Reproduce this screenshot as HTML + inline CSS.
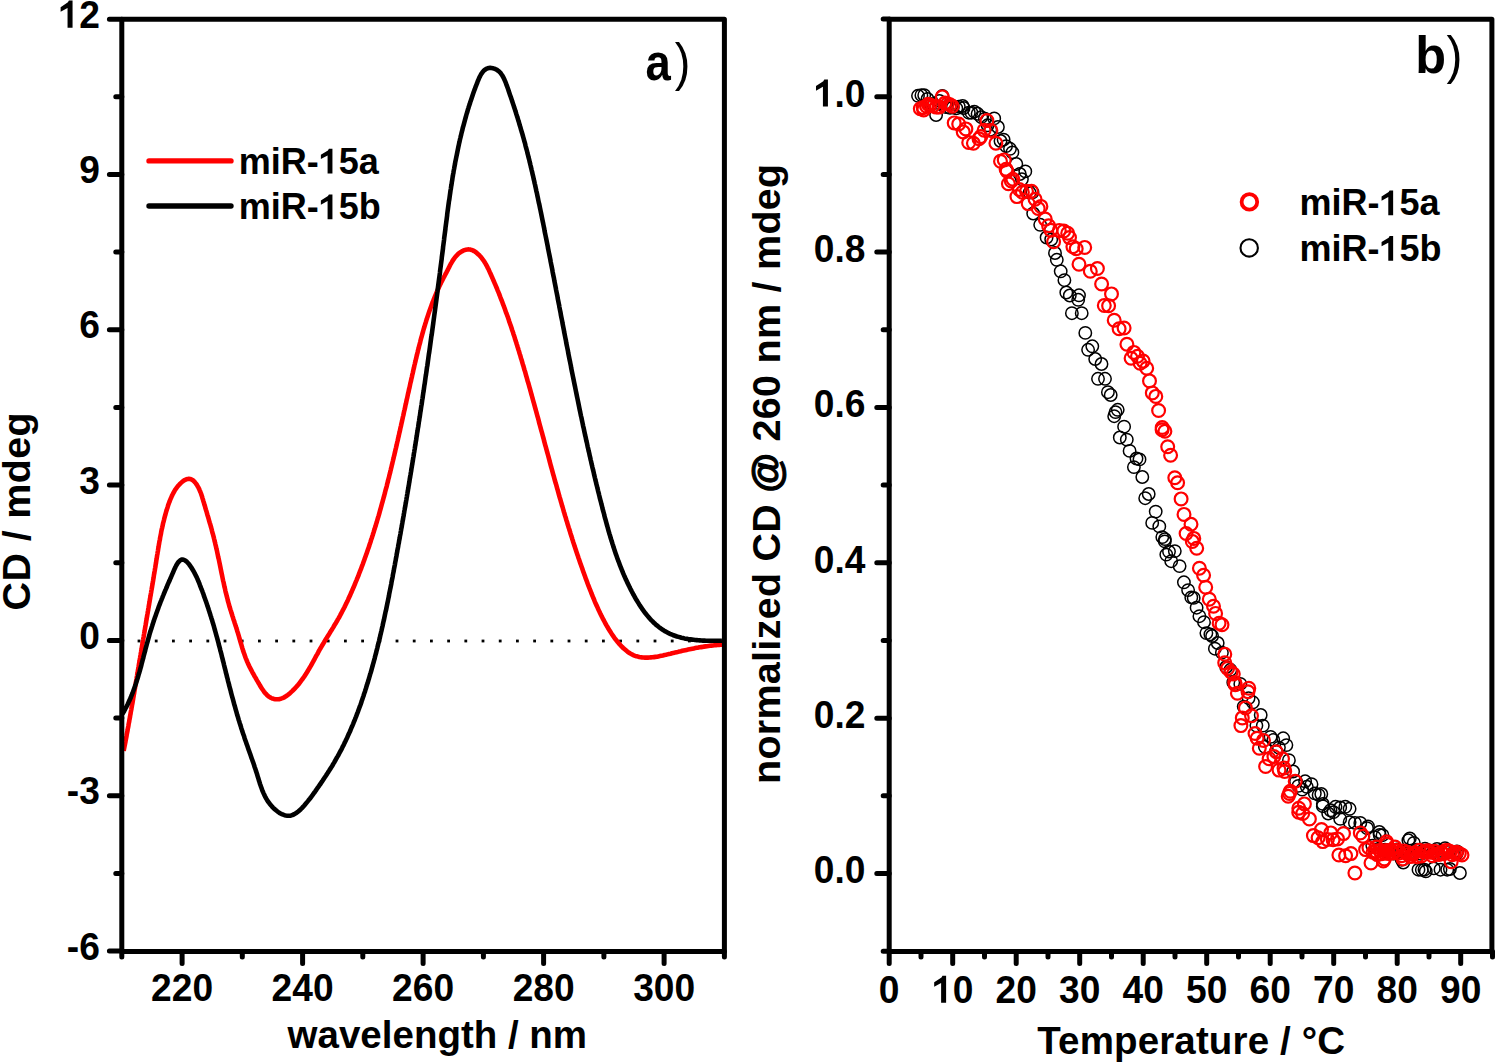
<!DOCTYPE html>
<html><head><meta charset="utf-8"><style>
html,body{margin:0;padding:0;background:#fff;width:1495px;height:1063px;overflow:hidden}
svg{display:block;font-family:"Liberation Sans",sans-serif}
</style></head><body>
<svg width="1495" height="1063" viewBox="0 0 1495 1063">
<rect width="1495" height="1063" fill="#fff"/>
<g fill="#000"><rect x="137.6" y="639.6" width="2.8" height="2.8"/><rect x="154.8" y="639.6" width="2.8" height="2.8"/><rect x="172.0" y="639.6" width="2.8" height="2.8"/><rect x="189.2" y="639.6" width="2.8" height="2.8"/><rect x="206.4" y="639.6" width="2.8" height="2.8"/><rect x="223.6" y="639.6" width="2.8" height="2.8"/><rect x="240.8" y="639.6" width="2.8" height="2.8"/><rect x="258.0" y="639.6" width="2.8" height="2.8"/><rect x="275.2" y="639.6" width="2.8" height="2.8"/><rect x="292.4" y="639.6" width="2.8" height="2.8"/><rect x="309.6" y="639.6" width="2.8" height="2.8"/><rect x="326.8" y="639.6" width="2.8" height="2.8"/><rect x="344.0" y="639.6" width="2.8" height="2.8"/><rect x="361.2" y="639.6" width="2.8" height="2.8"/><rect x="378.4" y="639.6" width="2.8" height="2.8"/><rect x="395.6" y="639.6" width="2.8" height="2.8"/><rect x="412.8" y="639.6" width="2.8" height="2.8"/><rect x="430.0" y="639.6" width="2.8" height="2.8"/><rect x="447.2" y="639.6" width="2.8" height="2.8"/><rect x="464.4" y="639.6" width="2.8" height="2.8"/><rect x="481.6" y="639.6" width="2.8" height="2.8"/><rect x="498.8" y="639.6" width="2.8" height="2.8"/><rect x="516.0" y="639.6" width="2.8" height="2.8"/><rect x="533.2" y="639.6" width="2.8" height="2.8"/><rect x="550.4" y="639.6" width="2.8" height="2.8"/><rect x="567.6" y="639.6" width="2.8" height="2.8"/><rect x="584.8" y="639.6" width="2.8" height="2.8"/><rect x="602.0" y="639.6" width="2.8" height="2.8"/><rect x="619.2" y="639.6" width="2.8" height="2.8"/><rect x="636.4" y="639.6" width="2.8" height="2.8"/><rect x="653.6" y="639.6" width="2.8" height="2.8"/><rect x="670.8" y="639.6" width="2.8" height="2.8"/><rect x="688.0" y="639.6" width="2.8" height="2.8"/><rect x="705.2" y="639.6" width="2.8" height="2.8"/></g>
<path d="M123.7,751.0 L123.9,749.5 L124.2,748.1 L124.5,746.6 L124.8,745.1 L125.1,743.6 L125.4,742.1 L125.6,740.7 L125.9,739.2 L126.2,737.7 L126.5,736.2 L126.7,734.8 L127.0,733.3 L127.3,731.8 L127.6,730.3 L127.8,728.8 L128.1,727.4 L128.4,725.9 L128.6,724.4 L128.9,722.9 L129.2,721.5 L129.4,720.0 L129.7,718.5 L130.0,717.0 L130.2,715.5 L130.5,714.1 L130.7,712.6 L131.0,711.1 L131.3,709.6 L131.5,708.1 L131.8,706.7 L132.0,705.2 L132.3,703.7 L132.6,702.2 L132.8,700.8 L133.1,699.3 L133.3,697.8 L133.6,696.3 L133.8,694.8 L134.1,693.4 L134.3,691.9 L134.6,690.4 L134.8,688.9 L135.1,687.5 L135.3,686.0 L135.6,684.5 L135.8,683.0 L136.1,681.5 L136.3,680.1 L136.6,678.6 L136.8,677.1 L137.1,675.6 L137.3,674.1 L137.6,672.7 L137.8,671.2 L138.1,669.7 L138.3,668.2 L138.6,666.7 L138.8,665.3 L139.1,663.8 L139.3,662.3 L139.6,660.8 L139.8,659.3 L140.1,657.9 L140.3,656.4 L140.6,654.9 L140.8,653.4 L141.1,651.9 L141.3,650.4 L141.6,649.0 L141.8,647.5 L142.1,646.0 L142.3,644.5 L142.6,643.0 L142.8,641.6 L143.1,640.1 L143.3,638.6 L143.6,637.1 L143.8,635.6 L144.1,634.1 L144.3,632.7 L144.6,631.2 L144.8,629.7 L145.1,628.2 L145.3,626.7 L145.6,625.2 L145.8,623.8 L146.1,622.3 L146.3,620.8 L146.6,619.3 L146.8,617.8 L147.1,616.3 L147.3,614.9 L147.6,613.4 L147.8,611.9 L148.1,610.4 L148.3,608.9 L148.6,607.4 L148.8,605.9 L149.1,604.5 L149.3,603.0 L149.6,601.5 L149.8,600.0 L150.1,598.5 L150.3,597.0 L150.6,595.6 L150.8,594.1 L151.1,592.6 L151.3,591.1 L151.6,589.6 L151.8,588.2 L152.1,586.7 L152.3,585.2 L152.6,583.7 L152.8,582.2 L153.1,580.7 L153.3,579.3 L153.6,577.8 L153.8,576.3 L154.0,574.8 L154.3,573.3 L154.5,571.9 L154.8,570.4 L155.0,568.9 L155.3,567.4 L155.5,565.9 L155.7,564.5 L156.0,563.0 L156.2,561.5 L156.4,560.0 L156.7,558.5 L156.9,557.1 L157.1,555.6 L157.4,554.1 L157.6,552.6 L157.9,551.1 L158.1,549.7 L158.3,548.2 L158.6,546.7 L158.8,545.2 L159.1,543.8 L159.3,542.3 L159.6,540.8 L159.9,539.4 L160.1,537.9 L160.4,536.4 L160.7,534.9 L161.0,533.5 L161.2,532.0 L161.5,530.5 L161.8,529.1 L162.2,527.6 L162.5,526.2 L162.8,524.7 L163.1,523.2 L163.5,521.8 L163.9,520.3 L164.2,518.9 L164.6,517.4 L165.0,515.9 L165.4,514.5 L165.8,513.0 L166.2,511.6 L166.7,510.1 L167.1,508.7 L167.6,507.2 L168.0,505.8 L168.5,504.3 L169.0,502.9 L169.6,501.5 L170.1,500.1 L170.7,498.7 L171.3,497.3 L171.9,495.9 L172.6,494.5 L173.3,493.2 L174.0,491.9 L174.7,490.6 L175.5,489.3 L176.4,488.1 L177.3,486.9 L178.2,485.8 L179.2,484.7 L180.2,483.6 L181.3,482.6 L182.4,481.6 L183.5,480.8 L184.7,480.1 L185.9,479.5 L187.1,479.1 L188.3,478.9 L189.5,478.9 L190.6,479.1 L191.8,479.6 L192.9,480.3 L194.0,481.3 L195.0,482.4 L196.0,483.6 L196.9,484.9 L197.7,486.3 L198.5,487.7 L199.2,489.1 L199.8,490.6 L200.4,492.0 L201.0,493.5 L201.5,495.0 L202.0,496.4 L202.4,497.9 L202.9,499.4 L203.3,500.9 L203.8,502.4 L204.2,503.9 L204.6,505.3 L205.1,506.8 L205.5,508.3 L205.9,509.7 L206.4,511.2 L206.8,512.6 L207.2,514.1 L207.6,515.5 L208.1,517.0 L208.5,518.4 L208.9,519.8 L209.3,521.3 L209.7,522.7 L210.2,524.2 L210.6,525.6 L211.0,527.0 L211.4,528.5 L211.8,529.9 L212.1,531.3 L212.5,532.8 L212.9,534.2 L213.3,535.6 L213.7,537.1 L214.0,538.5 L214.4,540.0 L214.7,541.4 L215.1,542.8 L215.4,544.3 L215.8,545.8 L216.1,547.2 L216.4,548.7 L216.8,550.1 L217.1,551.6 L217.4,553.1 L217.7,554.5 L218.0,556.0 L218.3,557.5 L218.7,558.9 L219.0,560.4 L219.3,561.9 L219.6,563.3 L219.9,564.8 L220.2,566.3 L220.5,567.8 L220.8,569.2 L221.1,570.7 L221.4,572.2 L221.7,573.7 L222.0,575.1 L222.3,576.6 L222.6,578.1 L222.9,579.6 L223.2,581.0 L223.6,582.5 L223.9,584.0 L224.2,585.5 L224.5,586.9 L224.9,588.4 L225.2,589.9 L225.5,591.3 L225.9,592.8 L226.3,594.3 L226.6,595.7 L227.0,597.2 L227.4,598.6 L227.7,600.1 L228.1,601.5 L228.5,603.0 L228.9,604.4 L229.3,605.9 L229.7,607.3 L230.2,608.8 L230.6,610.2 L231.1,611.6 L231.5,613.1 L232.0,614.5 L232.4,615.9 L232.9,617.3 L233.3,618.7 L233.8,620.2 L234.3,621.6 L234.7,623.0 L235.2,624.4 L235.6,625.8 L236.1,627.2 L236.5,628.6 L237.0,630.1 L237.4,631.5 L237.9,632.9 L238.3,634.3 L238.7,635.7 L239.1,637.1 L239.5,638.5 L239.9,639.9 L240.3,641.3 L240.7,642.7 L241.1,644.1 L241.6,645.6 L242.0,647.0 L242.4,648.4 L242.9,649.8 L243.3,651.3 L243.8,652.7 L244.3,654.1 L244.8,655.5 L245.3,656.9 L245.8,658.3 L246.4,659.7 L246.9,661.0 L247.5,662.4 L248.1,663.7 L248.7,665.0 L249.3,666.3 L250.0,667.6 L250.6,668.9 L251.3,670.2 L252.0,671.5 L252.7,672.8 L253.4,674.0 L254.1,675.3 L254.8,676.6 L255.6,677.9 L256.3,679.2 L257.1,680.6 L257.9,681.9 L258.7,683.3 L259.5,684.6 L260.3,686.0 L261.1,687.4 L262.0,688.7 L262.9,690.0 L263.8,691.3 L264.7,692.5 L265.7,693.7 L266.7,694.7 L267.8,695.7 L268.9,696.6 L270.1,697.4 L271.3,698.0 L272.6,698.6 L274.0,698.9 L275.3,699.2 L276.8,699.3 L278.2,699.2 L279.6,699.1 L281.0,698.7 L282.4,698.2 L283.7,697.6 L285.0,696.9 L286.3,696.0 L287.6,695.1 L288.8,694.2 L290.0,693.2 L291.1,692.1 L292.2,691.1 L293.3,690.0 L294.4,689.0 L295.4,687.9 L296.4,686.7 L297.4,685.6 L298.4,684.5 L299.3,683.3 L300.2,682.1 L301.1,680.9 L302.0,679.7 L302.9,678.5 L303.7,677.3 L304.6,676.1 L305.4,674.8 L306.2,673.6 L307.0,672.3 L307.8,671.0 L308.5,669.7 L309.3,668.5 L310.0,667.2 L310.8,665.9 L311.5,664.6 L312.2,663.3 L313.0,661.9 L313.7,660.6 L314.4,659.3 L315.1,658.0 L315.8,656.7 L316.5,655.4 L317.3,654.1 L318.0,652.8 L318.7,651.4 L319.4,650.1 L320.2,648.8 L320.9,647.5 L321.7,646.2 L322.4,645.0 L323.2,643.7 L324.0,642.4 L324.7,641.1 L325.5,639.8 L326.3,638.6 L327.1,637.3 L327.9,636.0 L328.7,634.7 L329.5,633.5 L330.2,632.2 L331.0,630.9 L331.8,629.7 L332.6,628.4 L333.4,627.1 L334.1,625.8 L334.9,624.5 L335.7,623.3 L336.4,622.0 L337.2,620.7 L337.9,619.4 L338.7,618.1 L339.4,616.8 L340.1,615.5 L340.8,614.1 L341.5,612.8 L342.2,611.5 L342.9,610.2 L343.6,608.8 L344.3,607.5 L345.0,606.1 L345.6,604.8 L346.3,603.4 L346.9,602.1 L347.6,600.7 L348.2,599.4 L348.8,598.0 L349.5,596.6 L350.1,595.3 L350.7,593.9 L351.3,592.5 L351.9,591.1 L352.5,589.8 L353.1,588.4 L353.7,587.0 L354.3,585.6 L354.9,584.2 L355.4,582.8 L356.0,581.4 L356.6,580.1 L357.1,578.7 L357.7,577.3 L358.3,575.9 L358.8,574.5 L359.3,573.1 L359.9,571.7 L360.4,570.3 L361.0,568.9 L361.5,567.5 L362.0,566.1 L362.6,564.6 L363.1,563.2 L363.6,561.8 L364.1,560.4 L364.6,559.0 L365.1,557.6 L365.6,556.2 L366.1,554.8 L366.6,553.4 L367.1,551.9 L367.6,550.5 L368.1,549.1 L368.6,547.7 L369.1,546.3 L369.5,544.8 L370.0,543.4 L370.5,542.0 L370.9,540.6 L371.4,539.1 L371.9,537.7 L372.3,536.3 L372.8,534.9 L373.2,533.4 L373.7,532.0 L374.1,530.6 L374.6,529.1 L375.0,527.7 L375.5,526.3 L375.9,524.8 L376.3,523.4 L376.8,522.0 L377.2,520.5 L377.6,519.1 L378.0,517.7 L378.5,516.2 L378.9,514.8 L379.3,513.3 L379.7,511.9 L380.1,510.4 L380.5,509.0 L380.9,507.6 L381.3,506.1 L381.7,504.7 L382.1,503.2 L382.5,501.8 L382.9,500.3 L383.3,498.9 L383.7,497.4 L384.1,496.0 L384.5,494.5 L384.9,493.1 L385.2,491.6 L385.6,490.2 L386.0,488.7 L386.4,487.3 L386.8,485.8 L387.1,484.4 L387.5,482.9 L387.9,481.5 L388.2,480.0 L388.6,478.5 L389.0,477.1 L389.3,475.6 L389.7,474.2 L390.1,472.7 L390.4,471.2 L390.8,469.8 L391.1,468.3 L391.5,466.9 L391.8,465.4 L392.2,463.9 L392.5,462.5 L392.9,461.0 L393.2,459.6 L393.6,458.1 L393.9,456.6 L394.3,455.2 L394.6,453.7 L395.0,452.2 L395.3,450.8 L395.6,449.3 L396.0,447.8 L396.3,446.4 L396.7,444.9 L397.0,443.4 L397.3,442.0 L397.7,440.5 L398.0,439.0 L398.3,437.6 L398.7,436.1 L399.0,434.6 L399.3,433.2 L399.7,431.7 L400.0,430.2 L400.3,428.8 L400.6,427.3 L401.0,425.8 L401.3,424.3 L401.6,422.9 L402.0,421.4 L402.3,419.9 L402.6,418.5 L402.9,417.0 L403.3,415.5 L403.6,414.0 L403.9,412.6 L404.2,411.1 L404.6,409.6 L404.9,408.2 L405.2,406.7 L405.5,405.2 L405.9,403.7 L406.2,402.3 L406.5,400.8 L406.8,399.3 L407.2,397.9 L407.5,396.4 L407.8,394.9 L408.1,393.4 L408.5,392.0 L408.8,390.5 L409.1,389.0 L409.5,387.6 L409.8,386.1 L410.1,384.6 L410.4,383.1 L410.8,381.7 L411.1,380.2 L411.4,378.7 L411.8,377.3 L412.1,375.8 L412.4,374.3 L412.8,372.8 L413.1,371.4 L413.4,369.9 L413.8,368.4 L414.1,367.0 L414.4,365.5 L414.8,364.0 L415.1,362.6 L415.5,361.1 L415.8,359.6 L416.2,358.2 L416.5,356.7 L416.9,355.2 L417.2,353.8 L417.6,352.3 L417.9,350.8 L418.3,349.4 L418.7,347.9 L419.0,346.5 L419.4,345.0 L419.8,343.6 L420.2,342.1 L420.5,340.7 L420.9,339.2 L421.3,337.7 L421.7,336.3 L422.1,334.9 L422.5,333.4 L422.9,332.0 L423.3,330.5 L423.7,329.1 L424.2,327.6 L424.6,326.2 L425.0,324.8 L425.4,323.4 L425.9,321.9 L426.3,320.5 L426.8,319.1 L427.2,317.7 L427.7,316.2 L428.2,314.8 L428.6,313.4 L429.1,312.0 L429.6,310.6 L430.1,309.2 L430.6,307.8 L431.1,306.4 L431.6,305.0 L432.1,303.6 L432.7,302.2 L433.2,300.8 L433.8,299.4 L434.3,298.0 L434.9,296.7 L435.4,295.3 L436.0,293.9 L436.6,292.5 L437.2,291.2 L437.8,289.8 L438.4,288.5 L439.0,287.1 L439.6,285.8 L440.2,284.5 L440.9,283.1 L441.5,281.8 L442.2,280.6 L442.8,279.3 L443.5,278.0 L444.1,276.8 L444.8,275.5 L445.5,274.2 L446.2,272.9 L446.8,271.7 L447.5,270.4 L448.2,269.0 L448.9,267.7 L449.5,266.4 L450.2,265.0 L450.9,263.7 L451.7,262.4 L452.4,261.1 L453.2,259.9 L454.1,258.6 L455.0,257.4 L455.9,256.3 L457.0,255.2 L458.0,254.1 L459.2,253.1 L460.5,252.2 L461.8,251.4 L463.1,250.7 L464.5,250.1 L465.9,249.7 L467.4,249.5 L468.8,249.4 L470.1,249.6 L471.5,249.9 L472.8,250.4 L474.1,251.1 L475.3,251.8 L476.5,252.7 L477.6,253.7 L478.7,254.7 L479.7,255.7 L480.7,256.8 L481.6,257.9 L482.5,259.1 L483.4,260.3 L484.2,261.5 L485.0,262.8 L485.8,264.1 L486.5,265.4 L487.2,266.7 L487.9,268.1 L488.6,269.4 L489.2,270.8 L489.8,272.2 L490.5,273.6 L491.1,275.0 L491.7,276.4 L492.3,277.8 L492.9,279.1 L493.5,280.5 L494.1,281.9 L494.7,283.3 L495.3,284.7 L495.9,286.1 L496.5,287.5 L497.1,288.9 L497.6,290.3 L498.2,291.7 L498.8,293.1 L499.3,294.5 L499.9,295.9 L500.4,297.3 L501.0,298.8 L501.5,300.2 L502.1,301.6 L502.6,303.0 L503.1,304.4 L503.7,305.8 L504.2,307.2 L504.7,308.6 L505.2,310.0 L505.7,311.4 L506.2,312.9 L506.8,314.3 L507.3,315.7 L507.8,317.1 L508.3,318.5 L508.8,319.9 L509.2,321.4 L509.7,322.8 L510.2,324.2 L510.7,325.6 L511.2,327.1 L511.7,328.5 L512.1,329.9 L512.6,331.3 L513.1,332.7 L513.5,334.2 L514.0,335.6 L514.5,337.0 L514.9,338.5 L515.4,339.9 L515.8,341.3 L516.3,342.7 L516.7,344.2 L517.2,345.6 L517.6,347.0 L518.1,348.5 L518.5,349.9 L519.0,351.3 L519.4,352.8 L519.8,354.2 L520.3,355.6 L520.7,357.1 L521.1,358.5 L521.6,359.9 L522.0,361.4 L522.4,362.8 L522.8,364.2 L523.3,365.7 L523.7,367.1 L524.1,368.6 L524.5,370.0 L525.0,371.4 L525.4,372.9 L525.8,374.3 L526.2,375.8 L526.6,377.2 L527.0,378.6 L527.4,380.1 L527.8,381.5 L528.3,383.0 L528.7,384.4 L529.1,385.9 L529.5,387.3 L529.9,388.7 L530.3,390.2 L530.7,391.6 L531.1,393.1 L531.5,394.5 L531.9,396.0 L532.3,397.4 L532.7,398.9 L533.1,400.3 L533.5,401.8 L533.9,403.2 L534.3,404.7 L534.7,406.1 L535.1,407.6 L535.5,409.0 L535.9,410.5 L536.3,411.9 L536.7,413.4 L537.1,414.8 L537.5,416.3 L537.9,417.7 L538.3,419.2 L538.7,420.6 L539.0,422.1 L539.4,423.5 L539.8,425.0 L540.2,426.4 L540.6,427.9 L541.0,429.3 L541.4,430.8 L541.8,432.2 L542.2,433.7 L542.6,435.1 L543.0,436.6 L543.4,438.0 L543.8,439.5 L544.1,440.9 L544.5,442.4 L544.9,443.8 L545.3,445.3 L545.7,446.7 L546.1,448.2 L546.5,449.6 L546.9,451.1 L547.3,452.5 L547.7,454.0 L548.1,455.4 L548.5,456.9 L548.9,458.3 L549.3,459.8 L549.6,461.2 L550.0,462.7 L550.4,464.1 L550.8,465.6 L551.2,467.0 L551.6,468.5 L552.0,469.9 L552.4,471.4 L552.8,472.8 L553.2,474.3 L553.6,475.7 L554.0,477.2 L554.4,478.6 L554.8,480.1 L555.2,481.5 L555.6,483.0 L556.1,484.4 L556.5,485.9 L556.9,487.3 L557.3,488.8 L557.7,490.2 L558.1,491.7 L558.5,493.1 L558.9,494.6 L559.3,496.0 L559.7,497.4 L560.2,498.9 L560.6,500.3 L561.0,501.8 L561.4,503.2 L561.8,504.7 L562.2,506.1 L562.7,507.5 L563.1,509.0 L563.5,510.4 L563.9,511.9 L564.4,513.3 L564.8,514.8 L565.2,516.2 L565.7,517.6 L566.1,519.1 L566.5,520.5 L567.0,521.9 L567.4,523.4 L567.8,524.8 L568.3,526.3 L568.7,527.7 L569.2,529.1 L569.6,530.6 L570.1,532.0 L570.5,533.4 L571.0,534.9 L571.4,536.3 L571.9,537.7 L572.3,539.2 L572.8,540.6 L573.2,542.0 L573.7,543.4 L574.2,544.9 L574.6,546.3 L575.1,547.7 L575.6,549.2 L576.0,550.6 L576.5,552.0 L577.0,553.4 L577.5,554.9 L578.0,556.3 L578.4,557.7 L578.9,559.1 L579.4,560.5 L579.9,562.0 L580.4,563.4 L580.9,564.8 L581.4,566.2 L581.9,567.6 L582.4,569.1 L582.9,570.5 L583.4,571.9 L583.9,573.3 L584.4,574.7 L584.9,576.1 L585.4,577.5 L585.9,578.9 L586.5,580.4 L587.0,581.8 L587.5,583.2 L588.0,584.6 L588.6,586.0 L589.1,587.4 L589.7,588.8 L590.2,590.2 L590.8,591.6 L591.3,593.0 L591.9,594.4 L592.4,595.8 L593.0,597.1 L593.6,598.5 L594.2,599.9 L594.7,601.3 L595.3,602.7 L595.9,604.0 L596.5,605.4 L597.2,606.8 L597.8,608.1 L598.4,609.5 L599.0,610.8 L599.7,612.2 L600.3,613.5 L601.0,614.9 L601.6,616.2 L602.3,617.5 L603.0,618.9 L603.7,620.2 L604.4,621.5 L605.1,622.8 L605.8,624.1 L606.5,625.4 L607.3,626.7 L608.0,628.0 L608.8,629.3 L609.6,630.6 L610.4,631.8 L611.2,633.1 L612.0,634.4 L612.9,635.6 L613.7,636.8 L614.6,638.1 L615.5,639.3 L616.5,640.5 L617.4,641.7 L618.4,642.9 L619.5,644.1 L620.5,645.2 L621.6,646.4 L622.7,647.5 L623.8,648.6 L625.0,649.6 L626.2,650.6 L627.4,651.6 L628.6,652.5 L629.9,653.3 L631.2,654.0 L632.5,654.7 L633.8,655.3 L635.1,655.8 L636.5,656.3 L637.9,656.6 L639.3,657.0 L640.7,657.2 L642.1,657.4 L643.5,657.5 L645.0,657.6 L646.4,657.6 L647.9,657.6 L649.4,657.5 L650.9,657.4 L652.4,657.3 L653.9,657.1 L655.4,656.9 L656.9,656.7 L658.4,656.4 L659.9,656.1 L661.4,655.8 L662.9,655.5 L664.5,655.1 L666.0,654.8 L667.5,654.4 L669.0,654.0 L670.5,653.7 L672.0,653.3 L673.5,652.9 L675.0,652.6 L676.4,652.2 L677.9,651.9 L679.4,651.5 L680.8,651.2 L682.3,650.8 L683.7,650.5 L685.2,650.2 L686.6,649.9 L688.1,649.6 L689.5,649.3 L691.0,649.0 L692.4,648.7 L693.9,648.4 L695.3,648.1 L696.7,647.8 L698.2,647.6 L699.7,647.3 L701.1,647.1 L702.6,646.9 L704.0,646.6 L705.5,646.4 L707.0,646.2 L708.5,646.0 L709.9,645.8 L711.4,645.6 L712.9,645.5 L714.4,645.3 L716.0,645.1 L717.5,645.0 L719.0,644.9 L720.6,644.7 L722.2,644.6" fill="none" stroke="#ff0000" stroke-width="4.6" stroke-linejoin="round" stroke-linecap="butt"/>
<path d="M122.6,713.8 L123.3,712.5 L124.1,711.2 L124.8,709.8 L125.5,708.5 L126.2,707.2 L126.9,705.8 L127.6,704.5 L128.2,703.1 L128.8,701.8 L129.5,700.4 L130.1,699.0 L130.7,697.7 L131.2,696.3 L131.8,694.9 L132.3,693.5 L132.9,692.1 L133.4,690.7 L133.9,689.3 L134.4,687.9 L134.9,686.5 L135.4,685.1 L135.9,683.7 L136.3,682.3 L136.8,680.8 L137.2,679.4 L137.7,678.0 L138.1,676.6 L138.5,675.1 L138.9,673.7 L139.4,672.2 L139.8,670.8 L140.2,669.4 L140.6,667.9 L141.0,666.5 L141.4,665.0 L141.7,663.6 L142.1,662.1 L142.5,660.7 L142.9,659.2 L143.3,657.8 L143.6,656.3 L144.0,654.9 L144.4,653.4 L144.8,651.9 L145.2,650.5 L145.5,649.0 L145.9,647.6 L146.3,646.1 L146.7,644.7 L147.1,643.2 L147.5,641.8 L147.9,640.3 L148.3,638.9 L148.7,637.4 L149.1,636.0 L149.5,634.5 L149.9,633.1 L150.4,631.6 L150.8,630.2 L151.3,628.8 L151.7,627.3 L152.2,625.9 L152.6,624.5 L153.1,623.0 L153.6,621.6 L154.0,620.2 L154.5,618.8 L155.0,617.3 L155.5,615.9 L156.0,614.5 L156.5,613.1 L157.0,611.7 L157.5,610.3 L158.0,608.9 L158.5,607.5 L159.0,606.1 L159.6,604.7 L160.1,603.3 L160.6,601.9 L161.2,600.6 L161.7,599.2 L162.3,597.8 L162.8,596.4 L163.4,595.1 L163.9,593.7 L164.5,592.4 L165.0,591.0 L165.6,589.7 L166.2,588.3 L166.8,587.0 L167.3,585.6 L167.9,584.2 L168.5,582.8 L169.2,581.4 L169.8,580.0 L170.4,578.5 L171.1,577.0 L171.7,575.5 L172.4,573.9 L173.1,572.3 L173.8,570.6 L174.5,569.0 L175.3,567.4 L176.0,565.9 L176.8,564.5 L177.6,563.2 L178.5,562.0 L179.4,561.1 L180.2,560.3 L181.2,559.8 L182.1,559.5 L183.1,559.6 L184.1,559.9 L185.1,560.5 L186.2,561.2 L187.2,562.2 L188.2,563.3 L189.3,564.6 L190.2,565.9 L191.2,567.3 L192.1,568.8 L193.0,570.3 L193.8,571.7 L194.6,573.1 L195.3,574.5 L196.0,575.9 L196.7,577.3 L197.3,578.6 L197.9,580.0 L198.4,581.3 L199.0,582.6 L199.5,583.9 L200.0,585.3 L200.5,586.6 L201.0,587.9 L201.5,589.3 L202.1,590.6 L202.6,592.0 L203.1,593.3 L203.6,594.7 L204.0,596.1 L204.5,597.4 L205.0,598.8 L205.5,600.2 L206.0,601.6 L206.5,603.0 L207.0,604.4 L207.4,605.8 L207.9,607.2 L208.4,608.6 L208.8,610.0 L209.3,611.4 L209.7,612.8 L210.2,614.3 L210.6,615.7 L211.1,617.1 L211.5,618.5 L212.0,620.0 L212.4,621.4 L212.8,622.8 L213.3,624.3 L213.7,625.7 L214.1,627.1 L214.5,628.6 L214.9,630.0 L215.3,631.5 L215.7,632.9 L216.1,634.3 L216.5,635.8 L216.9,637.2 L217.3,638.7 L217.7,640.1 L218.1,641.6 L218.5,643.0 L218.8,644.5 L219.2,645.9 L219.6,647.4 L220.0,648.8 L220.3,650.3 L220.7,651.7 L221.1,653.2 L221.5,654.6 L221.8,656.1 L222.2,657.6 L222.6,659.0 L222.9,660.5 L223.3,661.9 L223.7,663.4 L224.0,664.8 L224.4,666.3 L224.7,667.7 L225.1,669.2 L225.5,670.6 L225.8,672.1 L226.2,673.6 L226.6,675.0 L226.9,676.5 L227.3,677.9 L227.7,679.4 L228.0,680.8 L228.4,682.3 L228.8,683.7 L229.1,685.2 L229.5,686.6 L229.9,688.1 L230.3,689.5 L230.7,691.0 L231.0,692.4 L231.4,693.9 L231.8,695.3 L232.2,696.8 L232.6,698.2 L233.0,699.7 L233.4,701.1 L233.8,702.6 L234.1,704.0 L234.6,705.5 L235.0,706.9 L235.4,708.4 L235.8,709.8 L236.2,711.2 L236.6,712.7 L237.0,714.1 L237.4,715.6 L237.9,717.0 L238.3,718.4 L238.7,719.9 L239.2,721.3 L239.6,722.7 L240.1,724.2 L240.5,725.6 L241.0,727.1 L241.4,728.5 L241.9,729.9 L242.3,731.3 L242.8,732.8 L243.3,734.2 L243.8,735.6 L244.3,737.1 L244.7,738.5 L245.2,739.9 L245.7,741.3 L246.2,742.8 L246.7,744.2 L247.2,745.6 L247.7,747.0 L248.2,748.4 L248.7,749.9 L249.2,751.3 L249.7,752.7 L250.2,754.1 L250.7,755.5 L251.2,757.0 L251.7,758.4 L252.2,759.8 L252.7,761.2 L253.2,762.6 L253.7,764.0 L254.2,765.5 L254.6,766.9 L255.1,768.3 L255.6,769.7 L256.0,771.1 L256.5,772.6 L257.0,774.0 L257.4,775.4 L257.8,776.8 L258.3,778.2 L258.7,779.7 L259.1,781.1 L259.6,782.5 L260.0,783.9 L260.5,785.3 L261.0,786.7 L261.5,788.1 L262.0,789.5 L262.5,790.9 L263.1,792.2 L263.7,793.6 L264.3,794.9 L265.0,796.3 L265.7,797.6 L266.4,798.9 L267.2,800.2 L268.0,801.5 L268.9,802.7 L269.9,804.0 L270.9,805.2 L271.9,806.4 L273.0,807.6 L274.2,808.7 L275.4,809.8 L276.6,810.8 L277.9,811.8 L279.2,812.7 L280.5,813.5 L281.8,814.1 L283.2,814.7 L284.5,815.2 L285.9,815.5 L287.2,815.7 L288.6,815.8 L289.9,815.7 L291.2,815.4 L292.4,815.0 L293.7,814.5 L294.9,813.8 L296.2,813.0 L297.4,812.2 L298.5,811.3 L299.7,810.2 L300.8,809.2 L301.9,808.1 L303.0,806.9 L304.1,805.7 L305.1,804.5 L306.1,803.3 L307.1,802.1 L308.1,800.9 L309.0,799.7 L310.0,798.5 L310.9,797.3 L311.8,796.1 L312.7,794.9 L313.5,793.7 L314.4,792.5 L315.3,791.3 L316.1,790.1 L317.0,788.8 L317.8,787.6 L318.7,786.4 L319.5,785.2 L320.4,784.0 L321.2,782.7 L322.1,781.5 L322.9,780.3 L323.7,779.0 L324.5,777.8 L325.4,776.5 L326.2,775.3 L327.0,774.0 L327.8,772.8 L328.6,771.5 L329.4,770.3 L330.2,769.0 L331.0,767.7 L331.8,766.5 L332.6,765.2 L333.3,763.9 L334.1,762.6 L334.8,761.3 L335.6,760.0 L336.3,758.7 L337.0,757.4 L337.8,756.1 L338.5,754.8 L339.2,753.5 L339.9,752.2 L340.6,750.9 L341.3,749.6 L342.0,748.2 L342.6,746.9 L343.3,745.6 L344.0,744.2 L344.6,742.9 L345.3,741.5 L345.9,740.2 L346.6,738.8 L347.2,737.5 L347.8,736.1 L348.4,734.8 L349.0,733.4 L349.7,732.0 L350.3,730.7 L350.8,729.3 L351.4,727.9 L352.0,726.5 L352.6,725.2 L353.2,723.8 L353.7,722.4 L354.3,721.0 L354.9,719.6 L355.4,718.2 L356.0,716.8 L356.5,715.4 L357.0,714.0 L357.6,712.6 L358.1,711.2 L358.6,709.8 L359.1,708.4 L359.6,707.0 L360.2,705.6 L360.7,704.2 L361.2,702.8 L361.6,701.3 L362.1,699.9 L362.6,698.5 L363.1,697.1 L363.6,695.7 L364.0,694.2 L364.5,692.8 L365.0,691.4 L365.4,689.9 L365.9,688.5 L366.3,687.1 L366.8,685.6 L367.2,684.2 L367.7,682.8 L368.1,681.3 L368.5,679.9 L369.0,678.5 L369.4,677.0 L369.8,675.6 L370.2,674.1 L370.7,672.7 L371.1,671.3 L371.5,669.8 L371.9,668.4 L372.3,666.9 L372.7,665.5 L373.1,664.0 L373.5,662.6 L373.9,661.2 L374.3,659.7 L374.7,658.3 L375.0,656.8 L375.4,655.4 L375.8,653.9 L376.2,652.5 L376.5,651.0 L376.9,649.6 L377.3,648.1 L377.6,646.7 L378.0,645.2 L378.3,643.7 L378.7,642.3 L379.1,640.8 L379.4,639.4 L379.8,637.9 L380.1,636.5 L380.4,635.0 L380.8,633.6 L381.1,632.1 L381.5,630.6 L381.8,629.2 L382.1,627.7 L382.5,626.3 L382.8,624.8 L383.1,623.3 L383.4,621.9 L383.8,620.4 L384.1,619.0 L384.4,617.5 L384.7,616.0 L385.0,614.6 L385.3,613.1 L385.6,611.6 L386.0,610.2 L386.3,608.7 L386.6,607.2 L386.9,605.8 L387.2,604.3 L387.5,602.8 L387.8,601.4 L388.1,599.9 L388.4,598.4 L388.7,597.0 L389.0,595.5 L389.2,594.0 L389.5,592.6 L389.8,591.1 L390.1,589.6 L390.4,588.2 L390.7,586.7 L391.0,585.2 L391.3,583.7 L391.5,582.3 L391.8,580.8 L392.1,579.3 L392.4,577.9 L392.7,576.4 L392.9,574.9 L393.2,573.4 L393.5,572.0 L393.8,570.5 L394.0,569.0 L394.3,567.5 L394.6,566.1 L394.9,564.6 L395.1,563.1 L395.4,561.6 L395.7,560.2 L395.9,558.7 L396.2,557.2 L396.5,555.7 L396.7,554.3 L397.0,552.8 L397.3,551.3 L397.5,549.8 L397.8,548.4 L398.1,546.9 L398.3,545.4 L398.6,543.9 L398.9,542.5 L399.1,541.0 L399.4,539.5 L399.7,538.0 L399.9,536.6 L400.2,535.1 L400.5,533.6 L400.7,532.1 L401.0,530.6 L401.2,529.2 L401.5,527.7 L401.8,526.2 L402.0,524.7 L402.3,523.2 L402.5,521.8 L402.8,520.3 L403.1,518.8 L403.3,517.3 L403.6,515.9 L403.8,514.4 L404.1,512.9 L404.3,511.4 L404.6,509.9 L404.8,508.5 L405.1,507.0 L405.4,505.5 L405.6,504.0 L405.9,502.5 L406.1,501.1 L406.4,499.6 L406.6,498.1 L406.9,496.6 L407.1,495.1 L407.4,493.6 L407.6,492.2 L407.9,490.7 L408.1,489.2 L408.4,487.7 L408.6,486.2 L408.9,484.8 L409.1,483.3 L409.4,481.8 L409.6,480.3 L409.8,478.8 L410.1,477.3 L410.3,475.9 L410.6,474.4 L410.8,472.9 L411.1,471.4 L411.3,469.9 L411.5,468.4 L411.8,467.0 L412.0,465.5 L412.3,464.0 L412.5,462.5 L412.8,461.0 L413.0,459.5 L413.2,458.1 L413.5,456.6 L413.7,455.1 L413.9,453.6 L414.2,452.1 L414.4,450.6 L414.7,449.1 L414.9,447.7 L415.1,446.2 L415.4,444.7 L415.6,443.2 L415.8,441.7 L416.1,440.2 L416.3,438.8 L416.5,437.3 L416.8,435.8 L417.0,434.3 L417.2,432.8 L417.5,431.3 L417.7,429.8 L417.9,428.4 L418.2,426.9 L418.4,425.4 L418.6,423.9 L418.8,422.4 L419.1,420.9 L419.3,419.4 L419.5,418.0 L419.8,416.5 L420.0,415.0 L420.2,413.5 L420.4,412.0 L420.7,410.5 L420.9,409.0 L421.1,407.5 L421.3,406.1 L421.6,404.6 L421.8,403.1 L422.0,401.6 L422.2,400.1 L422.5,398.6 L422.7,397.1 L422.9,395.7 L423.1,394.2 L423.3,392.7 L423.6,391.2 L423.8,389.7 L424.0,388.2 L424.2,386.7 L424.4,385.2 L424.7,383.8 L424.9,382.3 L425.1,380.8 L425.3,379.3 L425.5,377.8 L425.7,376.3 L426.0,374.8 L426.2,373.3 L426.4,371.9 L426.6,370.4 L426.8,368.9 L427.0,367.4 L427.3,365.9 L427.5,364.4 L427.7,362.9 L427.9,361.4 L428.1,360.0 L428.3,358.5 L428.5,357.0 L428.7,355.5 L428.9,354.0 L429.2,352.5 L429.4,351.0 L429.6,349.5 L429.8,348.1 L430.0,346.6 L430.2,345.1 L430.4,343.6 L430.6,342.1 L430.8,340.6 L431.0,339.1 L431.2,337.6 L431.4,336.2 L431.7,334.7 L431.9,333.2 L432.1,331.7 L432.3,330.2 L432.5,328.7 L432.7,327.2 L432.9,325.7 L433.1,324.3 L433.3,322.8 L433.5,321.3 L433.7,319.8 L433.9,318.3 L434.1,316.8 L434.3,315.3 L434.5,313.8 L434.7,312.4 L434.9,310.9 L435.1,309.4 L435.3,307.9 L435.5,306.4 L435.7,304.9 L435.9,303.4 L436.1,301.9 L436.3,300.5 L436.5,299.0 L436.7,297.5 L436.9,296.0 L437.1,294.5 L437.3,293.0 L437.5,291.5 L437.6,290.0 L437.8,288.6 L438.0,287.1 L438.2,285.6 L438.4,284.1 L438.6,282.6 L438.8,281.1 L439.0,279.6 L439.2,278.2 L439.4,276.7 L439.6,275.2 L439.8,273.7 L440.0,272.2 L440.1,270.7 L440.3,269.2 L440.5,267.7 L440.7,266.3 L440.9,264.8 L441.1,263.3 L441.3,261.8 L441.5,260.3 L441.7,258.8 L441.8,257.3 L442.0,255.9 L442.2,254.4 L442.4,252.9 L442.6,251.4 L442.8,249.9 L443.0,248.4 L443.1,246.9 L443.3,245.5 L443.5,244.0 L443.7,242.5 L443.9,241.0 L444.1,239.5 L444.2,238.0 L444.4,236.6 L444.6,235.1 L444.8,233.6 L445.0,232.1 L445.2,230.6 L445.4,229.1 L445.5,227.7 L445.7,226.2 L445.9,224.7 L446.1,223.2 L446.3,221.7 L446.5,220.2 L446.7,218.8 L446.9,217.3 L447.1,215.8 L447.2,214.3 L447.4,212.8 L447.6,211.3 L447.8,209.9 L448.0,208.4 L448.2,206.9 L448.4,205.4 L448.6,203.9 L448.8,202.4 L449.0,201.0 L449.3,199.5 L449.5,198.0 L449.7,196.5 L449.9,195.0 L450.1,193.6 L450.3,192.1 L450.5,190.6 L450.8,189.1 L451.0,187.6 L451.2,186.2 L451.5,184.7 L451.7,183.2 L451.9,181.7 L452.2,180.3 L452.4,178.8 L452.6,177.3 L452.9,175.8 L453.1,174.3 L453.4,172.9 L453.6,171.4 L453.9,169.9 L454.2,168.4 L454.4,167.0 L454.7,165.5 L455.0,164.0 L455.2,162.5 L455.5,161.1 L455.8,159.6 L456.1,158.1 L456.4,156.6 L456.7,155.2 L457.0,153.7 L457.3,152.2 L457.6,150.7 L457.9,149.3 L458.2,147.8 L458.5,146.3 L458.8,144.9 L459.1,143.4 L459.5,141.9 L459.8,140.4 L460.1,139.0 L460.5,137.5 L460.8,136.0 L461.2,134.6 L461.5,133.1 L461.9,131.6 L462.3,130.2 L462.6,128.7 L463.0,127.2 L463.4,125.8 L463.8,124.3 L464.2,122.8 L464.6,121.4 L465.0,119.9 L465.4,118.4 L465.8,117.0 L466.2,115.5 L466.6,114.0 L467.1,112.6 L467.5,111.1 L467.9,109.6 L468.4,108.2 L468.8,106.7 L469.3,105.3 L469.8,103.8 L470.2,102.3 L470.7,100.9 L471.2,99.4 L471.7,98.0 L472.2,96.5 L472.7,95.0 L473.2,93.6 L473.7,92.1 L474.2,90.7 L474.8,89.2 L475.3,87.8 L475.8,86.3 L476.4,84.8 L477.0,83.4 L477.5,81.9 L478.1,80.5 L478.7,79.1 L479.3,77.7 L480.0,76.4 L480.6,75.1 L481.3,73.9 L482.1,72.8 L482.9,71.7 L483.7,70.8 L484.6,70.0 L485.6,69.3 L486.6,68.7 L487.7,68.3 L488.9,68.0 L490.1,67.9 L491.5,68.0 L492.8,68.2 L494.2,68.6 L495.6,69.2 L497.0,69.9 L498.2,70.8 L499.4,71.8 L500.5,72.9 L501.4,74.2 L502.3,75.5 L503.1,76.9 L503.8,78.3 L504.5,79.8 L505.1,81.2 L505.7,82.6 L506.2,84.0 L506.7,85.4 L507.3,86.9 L507.8,88.3 L508.3,89.7 L508.7,91.1 L509.2,92.6 L509.7,94.0 L510.2,95.4 L510.7,96.8 L511.2,98.3 L511.7,99.7 L512.1,101.1 L512.6,102.6 L513.1,104.0 L513.6,105.4 L514.0,106.8 L514.5,108.3 L515.0,109.7 L515.4,111.1 L515.9,112.6 L516.3,114.0 L516.8,115.4 L517.2,116.8 L517.7,118.3 L518.1,119.7 L518.5,121.1 L519.0,122.6 L519.4,124.0 L519.8,125.5 L520.3,126.9 L520.7,128.3 L521.1,129.8 L521.5,131.2 L521.9,132.6 L522.4,134.1 L522.8,135.5 L523.2,137.0 L523.6,138.4 L524.0,139.8 L524.4,141.3 L524.8,142.7 L525.2,144.2 L525.5,145.6 L525.9,147.1 L526.3,148.5 L526.7,150.0 L527.1,151.4 L527.4,152.9 L527.8,154.3 L528.2,155.8 L528.5,157.2 L528.9,158.7 L529.3,160.1 L529.6,161.6 L530.0,163.0 L530.3,164.5 L530.7,166.0 L531.0,167.4 L531.4,168.9 L531.7,170.3 L532.1,171.8 L532.4,173.3 L532.7,174.7 L533.1,176.2 L533.4,177.6 L533.7,179.1 L534.1,180.6 L534.4,182.0 L534.7,183.5 L535.1,185.0 L535.4,186.4 L535.7,187.9 L536.0,189.3 L536.3,190.8 L536.7,192.3 L537.0,193.7 L537.3,195.2 L537.6,196.7 L537.9,198.1 L538.2,199.6 L538.5,201.1 L538.8,202.6 L539.2,204.0 L539.5,205.5 L539.8,207.0 L540.1,208.4 L540.4,209.9 L540.7,211.4 L541.0,212.8 L541.3,214.3 L541.6,215.8 L541.9,217.2 L542.2,218.7 L542.5,220.2 L542.8,221.7 L543.1,223.1 L543.4,224.6 L543.7,226.1 L544.0,227.5 L544.3,229.0 L544.5,230.5 L544.8,232.0 L545.1,233.4 L545.4,234.9 L545.7,236.4 L546.0,237.8 L546.3,239.3 L546.6,240.8 L546.9,242.3 L547.2,243.7 L547.5,245.2 L547.8,246.7 L548.0,248.2 L548.3,249.6 L548.6,251.1 L548.9,252.6 L549.2,254.0 L549.5,255.5 L549.8,257.0 L550.1,258.5 L550.4,259.9 L550.6,261.4 L550.9,262.9 L551.2,264.4 L551.5,265.8 L551.8,267.3 L552.1,268.8 L552.4,270.3 L552.6,271.7 L552.9,273.2 L553.2,274.7 L553.5,276.2 L553.8,277.6 L554.1,279.1 L554.3,280.6 L554.6,282.0 L554.9,283.5 L555.2,285.0 L555.5,286.5 L555.8,287.9 L556.0,289.4 L556.3,290.9 L556.6,292.4 L556.9,293.8 L557.2,295.3 L557.5,296.8 L557.7,298.3 L558.0,299.7 L558.3,301.2 L558.6,302.7 L558.9,304.2 L559.2,305.6 L559.4,307.1 L559.7,308.6 L560.0,310.1 L560.3,311.5 L560.6,313.0 L560.8,314.5 L561.1,316.0 L561.4,317.4 L561.7,318.9 L562.0,320.4 L562.3,321.8 L562.5,323.3 L562.8,324.8 L563.1,326.3 L563.4,327.7 L563.7,329.2 L564.0,330.7 L564.2,332.2 L564.5,333.6 L564.8,335.1 L565.1,336.6 L565.4,338.1 L565.7,339.5 L566.0,341.0 L566.2,342.5 L566.5,344.0 L566.8,345.4 L567.1,346.9 L567.4,348.4 L567.7,349.8 L568.0,351.3 L568.2,352.8 L568.5,354.3 L568.8,355.7 L569.1,357.2 L569.4,358.7 L569.7,360.2 L570.0,361.6 L570.3,363.1 L570.6,364.6 L570.9,366.0 L571.1,367.5 L571.4,369.0 L571.7,370.5 L572.0,371.9 L572.3,373.4 L572.6,374.9 L572.9,376.4 L573.2,377.8 L573.5,379.3 L573.8,380.8 L574.1,382.2 L574.4,383.7 L574.7,385.2 L575.0,386.6 L575.3,388.1 L575.6,389.6 L575.9,391.1 L576.2,392.5 L576.5,394.0 L576.8,395.5 L577.1,396.9 L577.4,398.4 L577.7,399.9 L578.0,401.3 L578.3,402.8 L578.6,404.3 L578.9,405.8 L579.2,407.2 L579.5,408.7 L579.8,410.2 L580.1,411.6 L580.4,413.1 L580.7,414.6 L581.0,416.0 L581.4,417.5 L581.7,419.0 L582.0,420.4 L582.3,421.9 L582.6,423.4 L582.9,424.8 L583.2,426.3 L583.6,427.8 L583.9,429.2 L584.2,430.7 L584.5,432.2 L584.8,433.6 L585.1,435.1 L585.5,436.6 L585.8,438.0 L586.1,439.5 L586.4,441.0 L586.8,442.4 L587.1,443.9 L587.4,445.4 L587.7,446.8 L588.1,448.3 L588.4,449.7 L588.7,451.2 L589.1,452.7 L589.4,454.1 L589.7,455.6 L590.1,457.1 L590.4,458.5 L590.7,460.0 L591.1,461.5 L591.4,462.9 L591.7,464.4 L592.1,465.8 L592.4,467.3 L592.8,468.8 L593.1,470.2 L593.5,471.7 L593.8,473.1 L594.1,474.6 L594.5,476.1 L594.8,477.5 L595.2,479.0 L595.5,480.4 L595.9,481.9 L596.2,483.4 L596.6,484.8 L597.0,486.3 L597.3,487.7 L597.7,489.2 L598.0,490.6 L598.4,492.1 L598.8,493.6 L599.1,495.0 L599.5,496.5 L599.8,497.9 L600.2,499.4 L600.6,500.8 L601.0,502.3 L601.3,503.7 L601.7,505.2 L602.1,506.6 L602.4,508.1 L602.8,509.6 L603.2,511.0 L603.6,512.5 L604.0,513.9 L604.3,515.4 L604.7,516.8 L605.1,518.3 L605.5,519.7 L605.9,521.2 L606.3,522.6 L606.7,524.1 L607.1,525.5 L607.5,527.0 L607.9,528.4 L608.3,529.8 L608.7,531.3 L609.1,532.7 L609.5,534.2 L610.0,535.6 L610.4,537.0 L610.8,538.5 L611.3,539.9 L611.7,541.3 L612.2,542.8 L612.6,544.2 L613.1,545.6 L613.5,547.1 L614.0,548.5 L614.5,549.9 L614.9,551.3 L615.4,552.7 L615.9,554.2 L616.4,555.6 L616.9,557.0 L617.4,558.4 L617.9,559.8 L618.4,561.2 L619.0,562.6 L619.5,564.0 L620.0,565.4 L620.6,566.8 L621.1,568.2 L621.7,569.6 L622.3,571.0 L622.8,572.4 L623.4,573.8 L624.0,575.2 L624.6,576.5 L625.2,577.9 L625.8,579.3 L626.5,580.6 L627.1,582.0 L627.7,583.4 L628.4,584.7 L629.1,586.1 L629.7,587.4 L630.4,588.8 L631.1,590.1 L631.8,591.5 L632.5,592.8 L633.2,594.2 L634.0,595.5 L634.7,596.8 L635.4,598.1 L636.2,599.5 L637.0,600.8 L637.8,602.1 L638.6,603.4 L639.4,604.7 L640.2,605.9 L641.0,607.2 L641.9,608.4 L642.7,609.7 L643.6,610.9 L644.5,612.1 L645.4,613.3 L646.4,614.5 L647.3,615.6 L648.3,616.8 L649.2,617.9 L650.2,619.0 L651.2,620.1 L652.3,621.1 L653.3,622.2 L654.4,623.2 L655.4,624.2 L656.5,625.1 L657.7,626.1 L658.8,627.0 L660.0,627.9 L661.1,628.7 L662.3,629.5 L663.6,630.3 L664.8,631.1 L666.1,631.8 L667.4,632.5 L668.7,633.2 L670.0,633.8 L671.4,634.4 L672.8,635.0 L674.2,635.5 L675.6,636.0 L677.0,636.5 L678.5,636.9 L680.0,637.3 L681.4,637.7 L682.9,638.0 L684.4,638.4 L686.0,638.7 L687.5,638.9 L689.0,639.2 L690.6,639.4 L692.1,639.6 L693.6,639.8 L695.2,640.0 L696.7,640.1 L698.3,640.3 L699.8,640.4 L701.4,640.5 L702.9,640.6 L704.5,640.6 L706.0,640.7 L707.5,640.7 L709.0,640.8 L710.5,640.8 L712.0,640.8 L713.5,640.8 L715.0,640.8 L716.4,640.8 L717.8,640.8 L719.2,640.8 L720.6,640.8 L722.0,640.7" fill="none" stroke="#000" stroke-width="4.6" stroke-linejoin="round" stroke-linecap="butt"/>
<rect x="121.8" y="19.2" width="602.6" height="932.4" fill="none" stroke="#000" stroke-width="5" stroke-linejoin="round"/>
<path d="M109.4,951.0H121.8 M109.4,795.7H121.8 M109.4,640.4H121.8 M109.4,485.1H121.8 M109.4,329.8H121.8 M109.4,174.5H121.8 M109.4,19.2H121.8 M115.8,873.4H121.8 M115.8,718.1H121.8 M115.8,562.7H121.8 M115.8,407.4H121.8 M115.8,252.1H121.8 M115.8,96.8H121.8 M182.1,951.6V963.6 M302.6,951.6V963.6 M423.1,951.6V963.6 M543.6,951.6V963.6 M664.1,951.6V963.6 M121.8,951.6V957.1 M242.3,951.6V957.1 M362.8,951.6V957.1 M483.4,951.6V957.1 M603.9,951.6V957.1 M724.4,951.6V957.1" stroke="#000" stroke-width="5" stroke-linecap="round" fill="none"/>
<rect x="889.2" y="19.2" width="602.7" height="932.4" fill="none" stroke="#000" stroke-width="5" stroke-linejoin="round"/>
<path d="M876.8,873.5H889.2 M876.8,718.2H889.2 M876.8,562.8H889.2 M876.8,407.5H889.2 M876.8,252.1H889.2 M876.8,96.8H889.2 M883.2,951.2H889.2 M883.2,795.8H889.2 M883.2,640.5H889.2 M883.2,485.1H889.2 M883.2,329.8H889.2 M883.2,174.5H889.2 M883.2,19.1H889.2 M889.2,951.6V963.6 M952.7,951.6V963.6 M1016.2,951.6V963.6 M1079.7,951.6V963.6 M1143.2,951.6V963.6 M1206.7,951.6V963.6 M1270.2,951.6V963.6 M1333.7,951.6V963.6 M1397.2,951.6V963.6 M1460.7,951.6V963.6 M921.0,951.6V957.1 M984.5,951.6V957.1 M1048.0,951.6V957.1 M1111.5,951.6V957.1 M1175.0,951.6V957.1 M1238.5,951.6V957.1 M1302.0,951.6V957.1 M1365.5,951.6V957.1 M1429.0,951.6V957.1 M1492.5,951.6V957.1" stroke="#000" stroke-width="5" stroke-linecap="round" fill="none"/>
<g fill="none" stroke="#000" stroke-width="1.5"><circle cx="918.0" cy="95.8" r="6.2"/><circle cx="921.4" cy="95.2" r="6.2"/><circle cx="924.2" cy="95.2" r="6.2"/><circle cx="936.1" cy="115.0" r="6.2"/><circle cx="962.6" cy="106.0" r="6.2"/><circle cx="968.8" cy="112.7" r="6.2"/><circle cx="981.3" cy="117.2" r="6.2"/><circle cx="994.2" cy="118.4" r="6.2"/><circle cx="990.3" cy="129.7" r="6.2"/><circle cx="1000.5" cy="141.0" r="6.2"/><circle cx="1010.0" cy="148.8" r="6.2"/><circle cx="1016.3" cy="164.0" r="6.2"/><circle cx="1025.3" cy="171.4" r="6.2"/><circle cx="1021.9" cy="179.3" r="6.2"/><circle cx="1032.5" cy="192.3" r="6.2"/><circle cx="1033.2" cy="213.5" r="6.2"/><circle cx="1040.2" cy="224.8" r="6.2"/><circle cx="1046.6" cy="237.5" r="6.2"/><circle cx="1055.0" cy="253.0" r="6.2"/><circle cx="1060.7" cy="271.3" r="6.2"/><circle cx="1066.3" cy="292.5" r="6.2"/><circle cx="1079.0" cy="295.3" r="6.2"/><circle cx="1069.8" cy="295.5" r="6.2"/><circle cx="1078.2" cy="299.8" r="6.2"/><circle cx="1071.9" cy="313.2" r="6.2"/><circle cx="1081.7" cy="313.2" r="6.2"/><circle cx="1085.3" cy="332.9" r="6.2"/><circle cx="1092.3" cy="346.3" r="6.2"/><circle cx="1088.1" cy="349.8" r="6.2"/><circle cx="1095.2" cy="359.0" r="6.2"/><circle cx="1101.5" cy="364.0" r="6.2"/><circle cx="1098.0" cy="378.8" r="6.2"/><circle cx="1105.0" cy="378.8" r="6.2"/><circle cx="1107.9" cy="392.2" r="6.2"/><circle cx="1110.7" cy="395.0" r="6.2"/><circle cx="1117.7" cy="409.8" r="6.2"/><circle cx="1114.2" cy="416.2" r="6.2"/><circle cx="1124.1" cy="426.7" r="6.2"/><circle cx="1115.5" cy="412.1" r="6.2"/><circle cx="1119.8" cy="437.5" r="6.2"/><circle cx="1126.8" cy="439.6" r="6.2"/><circle cx="1129.6" cy="450.9" r="6.2"/><circle cx="1139.5" cy="459.4" r="6.2"/><circle cx="1133.9" cy="467.1" r="6.2"/><circle cx="1142.3" cy="477.0" r="6.2"/><circle cx="1148.7" cy="494.0" r="6.2"/><circle cx="1145.2" cy="498.2" r="6.2"/><circle cx="1155.7" cy="511.6" r="6.2"/><circle cx="1152.2" cy="522.9" r="6.2"/><circle cx="1159.3" cy="526.4" r="6.2"/><circle cx="1164.9" cy="539.1" r="6.2"/><circle cx="1174.8" cy="551.1" r="6.2"/><circle cx="1166.3" cy="554.6" r="6.2"/><circle cx="1164.8" cy="541.4" r="6.2"/><circle cx="1171.2" cy="561.2" r="6.2"/><circle cx="1179.6" cy="566.1" r="6.2"/><circle cx="1183.9" cy="582.3" r="6.2"/><circle cx="1188.1" cy="590.1" r="6.2"/><circle cx="1193.7" cy="597.9" r="6.2"/><circle cx="1196.6" cy="607.7" r="6.2"/><circle cx="1199.4" cy="616.2" r="6.2"/><circle cx="1206.4" cy="633.1" r="6.2"/><circle cx="1212.1" cy="636.0" r="6.2"/><circle cx="1217.7" cy="643.0" r="6.2"/><circle cx="1214.9" cy="648.7" r="6.2"/><circle cx="1226.2" cy="667.0" r="6.2"/><circle cx="1230.4" cy="669.8" r="6.2"/><circle cx="1240.3" cy="683.9" r="6.2"/><circle cx="1233.3" cy="682.5" r="6.2"/><circle cx="1243.7" cy="706.6" r="6.2"/><circle cx="1252.9" cy="702.3" r="6.2"/><circle cx="1260.7" cy="715.0" r="6.2"/><circle cx="1256.4" cy="725.6" r="6.2"/><circle cx="1262.8" cy="725.6" r="6.2"/><circle cx="1270.6" cy="736.9" r="6.2"/><circle cx="1283.2" cy="738.3" r="6.2"/><circle cx="1264.9" cy="746.8" r="6.2"/><circle cx="1276.2" cy="751.7" r="6.2"/><circle cx="1288.9" cy="760.2" r="6.2"/><circle cx="1293.1" cy="771.5" r="6.2"/><circle cx="1305.1" cy="781.3" r="6.2"/><circle cx="1311.5" cy="784.2" r="6.2"/><circle cx="1321.3" cy="794.0" r="6.2"/><circle cx="1322.8" cy="803.9" r="6.2"/><circle cx="1335.5" cy="806.8" r="6.2"/><circle cx="1345.3" cy="806.8" r="6.2"/><circle cx="1296.0" cy="781.4" r="6.2"/><circle cx="1306.8" cy="786.8" r="6.2"/><circle cx="1314.8" cy="793.4" r="6.2"/><circle cx="1322.8" cy="806.2" r="6.2"/><circle cx="1328.2" cy="813.5" r="6.2"/><circle cx="1333.5" cy="812.2" r="6.2"/><circle cx="1340.2" cy="807.5" r="6.2"/><circle cx="1349.6" cy="808.8" r="6.2"/><circle cx="1340.2" cy="818.9" r="6.2"/><circle cx="1349.6" cy="822.2" r="6.2"/><circle cx="1354.9" cy="822.9" r="6.2"/><circle cx="1360.3" cy="822.9" r="6.2"/><circle cx="1367.0" cy="828.2" r="6.2"/><circle cx="1379.7" cy="834.9" r="6.2"/><circle cx="1372.3" cy="845.6" r="6.2"/><circle cx="1393.7" cy="853.6" r="6.2"/><circle cx="1401.7" cy="859.7" r="6.2"/><circle cx="1408.4" cy="840.3" r="6.2"/><circle cx="1413.8" cy="842.9" r="6.2"/><circle cx="1418.5" cy="869.7" r="6.2"/><circle cx="1424.5" cy="869.7" r="6.2"/><circle cx="1433.8" cy="868.4" r="6.2"/><circle cx="1440.5" cy="869.7" r="6.2"/><circle cx="1447.2" cy="869.7" r="6.2"/><circle cx="1459.9" cy="873.0" r="6.2"/><circle cx="1456.6" cy="853.6" r="6.2"/><circle cx="1409.8" cy="838.5" r="6.2"/><circle cx="1403.3" cy="862.5" r="6.2"/><circle cx="1421.8" cy="869.8" r="6.2"/><circle cx="1425.8" cy="871.4" r="6.2"/><circle cx="1449.9" cy="869.0" r="6.2"/><circle cx="1368.0" cy="826.4" r="6.2"/><circle cx="1379.3" cy="832.0" r="6.2"/><circle cx="1382.5" cy="835.2" r="6.2"/><circle cx="1385.0" cy="849.8" r="6.2"/><circle cx="1389.0" cy="852.8" r="6.2"/><circle cx="1397.0" cy="849.5" r="6.2"/><circle cx="1401.0" cy="851.4" r="6.2"/><circle cx="1405.0" cy="851.2" r="6.2"/><circle cx="1409.0" cy="853.3" r="6.2"/><circle cx="1413.0" cy="852.4" r="6.2"/><circle cx="1417.0" cy="849.7" r="6.2"/><circle cx="1421.0" cy="853.9" r="6.2"/><circle cx="1425.0" cy="848.7" r="6.2"/><circle cx="1429.0" cy="850.5" r="6.2"/><circle cx="1433.0" cy="852.5" r="6.2"/><circle cx="1437.0" cy="848.9" r="6.2"/><circle cx="1441.0" cy="850.9" r="6.2"/><circle cx="1445.0" cy="848.2" r="6.2"/><circle cx="1449.0" cy="852.0" r="6.2"/><circle cx="1453.0" cy="852.6" r="6.2"/><circle cx="1457.0" cy="851.4" r="6.2"/><circle cx="942.4" cy="96.0" r="6.2"/><circle cx="963.6" cy="108.0" r="6.2"/><circle cx="927.5" cy="99.0" r="6.2"/><circle cx="931.0" cy="104.0" r="6.2"/><circle cx="933.7" cy="105.6" r="6.2"/><circle cx="939.4" cy="100.9" r="6.2"/><circle cx="946.0" cy="107.1" r="6.2"/><circle cx="950.0" cy="107.8" r="6.2"/><circle cx="952.8" cy="107.3" r="6.2"/><circle cx="956.3" cy="108.3" r="6.2"/><circle cx="958.8" cy="106.6" r="6.2"/><circle cx="971.4" cy="112.7" r="6.2"/><circle cx="974.3" cy="111.7" r="6.2"/><circle cx="977.6" cy="113.8" r="6.2"/><circle cx="984.9" cy="118.6" r="6.2"/><circle cx="987.6" cy="125.3" r="6.2"/><circle cx="997.9" cy="127.0" r="6.2"/><circle cx="1003.6" cy="139.6" r="6.2"/><circle cx="1006.1" cy="146.1" r="6.2"/><circle cx="1012.4" cy="152.4" r="6.2"/><circle cx="1019.8" cy="174.0" r="6.2"/><circle cx="1029.6" cy="192.6" r="6.2"/><circle cx="1051.2" cy="239.5" r="6.2"/><circle cx="1056.8" cy="259.8" r="6.2"/><circle cx="1064.4" cy="280.2" r="6.2"/><circle cx="1136.5" cy="458.5" r="6.2"/><circle cx="1162.3" cy="537.1" r="6.2"/><circle cx="1169.0" cy="551.6" r="6.2"/><circle cx="1191.3" cy="597.4" r="6.2"/><circle cx="1204.0" cy="622.2" r="6.2"/><circle cx="1210.4" cy="634.4" r="6.2"/><circle cx="1221.9" cy="652.7" r="6.2"/><circle cx="1248.6" cy="698.1" r="6.2"/><circle cx="1273.3" cy="740.0" r="6.2"/><circle cx="1278.9" cy="747.6" r="6.2"/><circle cx="1286.4" cy="745.1" r="6.2"/><circle cx="1298.4" cy="785.9" r="6.2"/><circle cx="1302.2" cy="789.6" r="6.2"/><circle cx="1318.6" cy="794.9" r="6.2"/><circle cx="1330.5" cy="810.3" r="6.2"/><circle cx="1374.9" cy="837.3" r="6.2"/></g>
<g fill="none" stroke="#ff0000" stroke-width="2.2"><circle cx="920.3" cy="108.8" r="6.4"/><circle cx="923.7" cy="110.0" r="6.4"/><circle cx="928.2" cy="104.3" r="6.4"/><circle cx="942.3" cy="96.9" r="6.4"/><circle cx="947.4" cy="103.7" r="6.4"/><circle cx="954.2" cy="122.9" r="6.4"/><circle cx="958.7" cy="124.0" r="6.4"/><circle cx="963.2" cy="131.9" r="6.4"/><circle cx="973.4" cy="143.2" r="6.4"/><circle cx="979.0" cy="138.7" r="6.4"/><circle cx="986.9" cy="120.6" r="6.4"/><circle cx="995.9" cy="143.2" r="6.4"/><circle cx="1000.5" cy="161.3" r="6.4"/><circle cx="1006.1" cy="169.2" r="6.4"/><circle cx="1008.4" cy="183.8" r="6.4"/><circle cx="1012.9" cy="179.3" r="6.4"/><circle cx="1031.5" cy="191.2" r="6.4"/><circle cx="1004.2" cy="159.9" r="6.4"/><circle cx="1007.1" cy="171.2" r="6.4"/><circle cx="1011.3" cy="181.0" r="6.4"/><circle cx="1016.9" cy="196.6" r="6.4"/><circle cx="1028.2" cy="203.6" r="6.4"/><circle cx="1040.9" cy="206.4" r="6.4"/><circle cx="1045.2" cy="219.1" r="6.4"/><circle cx="1059.3" cy="230.4" r="6.4"/><circle cx="1067.7" cy="233.3" r="6.4"/><circle cx="1053.6" cy="241.7" r="6.4"/><circle cx="1076.2" cy="248.8" r="6.4"/><circle cx="1084.7" cy="247.4" r="6.4"/><circle cx="1079.0" cy="264.3" r="6.4"/><circle cx="1090.3" cy="271.3" r="6.4"/><circle cx="1097.4" cy="268.5" r="6.4"/><circle cx="1101.6" cy="284.0" r="6.4"/><circle cx="1111.5" cy="293.9" r="6.4"/><circle cx="1104.3" cy="305.4" r="6.4"/><circle cx="1114.2" cy="320.2" r="6.4"/><circle cx="1119.1" cy="328.7" r="6.4"/><circle cx="1124.1" cy="328.0" r="6.4"/><circle cx="1126.9" cy="344.2" r="6.4"/><circle cx="1131.1" cy="358.3" r="6.4"/><circle cx="1137.5" cy="356.2" r="6.4"/><circle cx="1143.1" cy="361.1" r="6.4"/><circle cx="1146.7" cy="368.2" r="6.4"/><circle cx="1149.5" cy="380.9" r="6.4"/><circle cx="1152.3" cy="392.9" r="6.4"/><circle cx="1155.8" cy="396.4" r="6.4"/><circle cx="1158.6" cy="410.5" r="6.4"/><circle cx="1162.2" cy="427.5" r="6.4"/><circle cx="1162.1" cy="429.8" r="6.4"/><circle cx="1164.9" cy="431.2" r="6.4"/><circle cx="1167.7" cy="446.7" r="6.4"/><circle cx="1170.6" cy="455.2" r="6.4"/><circle cx="1174.8" cy="477.7" r="6.4"/><circle cx="1177.6" cy="482.7" r="6.4"/><circle cx="1181.1" cy="498.9" r="6.4"/><circle cx="1184.0" cy="514.4" r="6.4"/><circle cx="1191.0" cy="524.3" r="6.4"/><circle cx="1186.1" cy="533.5" r="6.4"/><circle cx="1193.8" cy="538.4" r="6.4"/><circle cx="1196.7" cy="548.3" r="6.4"/><circle cx="1192.3" cy="541.4" r="6.4"/><circle cx="1199.4" cy="568.2" r="6.4"/><circle cx="1203.6" cy="575.3" r="6.4"/><circle cx="1205.7" cy="587.3" r="6.4"/><circle cx="1209.3" cy="599.3" r="6.4"/><circle cx="1213.5" cy="606.3" r="6.4"/><circle cx="1215.6" cy="613.4" r="6.4"/><circle cx="1219.1" cy="623.3" r="6.4"/><circle cx="1222.0" cy="624.7" r="6.4"/><circle cx="1224.8" cy="654.3" r="6.4"/><circle cx="1227.6" cy="668.4" r="6.4"/><circle cx="1233.3" cy="674.0" r="6.4"/><circle cx="1234.7" cy="682.5" r="6.4"/><circle cx="1248.8" cy="688.2" r="6.4"/><circle cx="1224.7" cy="662.8" r="6.4"/><circle cx="1231.0" cy="672.0" r="6.4"/><circle cx="1235.3" cy="684.7" r="6.4"/><circle cx="1237.4" cy="693.2" r="6.4"/><circle cx="1248.0" cy="691.7" r="6.4"/><circle cx="1242.3" cy="717.9" r="6.4"/><circle cx="1240.9" cy="725.6" r="6.4"/><circle cx="1251.5" cy="715.7" r="6.4"/><circle cx="1257.1" cy="738.3" r="6.4"/><circle cx="1263.5" cy="740.4" r="6.4"/><circle cx="1259.3" cy="748.2" r="6.4"/><circle cx="1276.2" cy="751.7" r="6.4"/><circle cx="1269.1" cy="758.8" r="6.4"/><circle cx="1282.5" cy="758.8" r="6.4"/><circle cx="1265.6" cy="766.5" r="6.4"/><circle cx="1279.0" cy="770.1" r="6.4"/><circle cx="1284.7" cy="771.5" r="6.4"/><circle cx="1295.2" cy="781.3" r="6.4"/><circle cx="1290.3" cy="791.2" r="6.4"/><circle cx="1288.2" cy="796.2" r="6.4"/><circle cx="1304.4" cy="803.9" r="6.4"/><circle cx="1298.8" cy="808.2" r="6.4"/><circle cx="1284.0" cy="768.0" r="6.4"/><circle cx="1289.4" cy="793.4" r="6.4"/><circle cx="1298.7" cy="812.2" r="6.4"/><circle cx="1302.7" cy="813.5" r="6.4"/><circle cx="1309.4" cy="818.9" r="6.4"/><circle cx="1321.5" cy="829.6" r="6.4"/><circle cx="1313.4" cy="835.6" r="6.4"/><circle cx="1322.8" cy="841.6" r="6.4"/><circle cx="1330.8" cy="832.9" r="6.4"/><circle cx="1337.5" cy="838.9" r="6.4"/><circle cx="1343.5" cy="833.6" r="6.4"/><circle cx="1338.9" cy="855.0" r="6.4"/><circle cx="1345.6" cy="855.7" r="6.4"/><circle cx="1350.9" cy="853.6" r="6.4"/><circle cx="1354.9" cy="873.0" r="6.4"/><circle cx="1360.3" cy="832.9" r="6.4"/><circle cx="1362.9" cy="836.3" r="6.4"/><circle cx="1365.6" cy="849.6" r="6.4"/><circle cx="1371.0" cy="863.0" r="6.4"/><circle cx="1384.3" cy="859.0" r="6.4"/><circle cx="1376.3" cy="847.0" r="6.4"/><circle cx="1387.0" cy="844.3" r="6.4"/><circle cx="1395.0" cy="847.0" r="6.4"/><circle cx="1403.0" cy="859.0" r="6.4"/><circle cx="1407.1" cy="852.3" r="6.4"/><circle cx="1459.3" cy="853.6" r="6.4"/><circle cx="1462.0" cy="855.0" r="6.4"/><circle cx="1451.2" cy="861.7" r="6.4"/><circle cx="1373.0" cy="852.3" r="6.4"/><circle cx="1375.2" cy="851.1" r="6.4"/><circle cx="1377.4" cy="854.6" r="6.4"/><circle cx="1379.6" cy="850.5" r="6.4"/><circle cx="1381.8" cy="853.8" r="6.4"/><circle cx="1384.0" cy="852.6" r="6.4"/><circle cx="1386.2" cy="850.4" r="6.4"/><circle cx="1388.4" cy="853.6" r="6.4"/><circle cx="1390.6" cy="850.3" r="6.4"/><circle cx="1392.8" cy="853.0" r="6.4"/><circle cx="1395.0" cy="850.5" r="6.4"/><circle cx="1397.2" cy="850.6" r="6.4"/><circle cx="1399.4" cy="853.0" r="6.4"/><circle cx="1401.6" cy="855.8" r="6.4"/><circle cx="1403.8" cy="850.9" r="6.4"/><circle cx="1408.2" cy="854.4" r="6.4"/><circle cx="1410.4" cy="856.6" r="6.4"/><circle cx="1412.6" cy="854.0" r="6.4"/><circle cx="1414.8" cy="852.8" r="6.4"/><circle cx="1417.0" cy="856.8" r="6.4"/><circle cx="1419.2" cy="850.3" r="6.4"/><circle cx="1421.4" cy="856.0" r="6.4"/><circle cx="1423.6" cy="852.0" r="6.4"/><circle cx="1425.8" cy="851.0" r="6.4"/><circle cx="1428.0" cy="850.8" r="6.4"/><circle cx="1430.2" cy="852.2" r="6.4"/><circle cx="1432.4" cy="855.7" r="6.4"/><circle cx="1434.6" cy="851.3" r="6.4"/><circle cx="1436.8" cy="854.1" r="6.4"/><circle cx="1439.0" cy="854.5" r="6.4"/><circle cx="1441.2" cy="852.6" r="6.4"/><circle cx="1443.4" cy="853.8" r="6.4"/><circle cx="1445.6" cy="850.4" r="6.4"/><circle cx="1447.8" cy="850.4" r="6.4"/><circle cx="1450.0" cy="851.4" r="6.4"/><circle cx="1452.2" cy="854.8" r="6.4"/><circle cx="1454.4" cy="853.0" r="6.4"/><circle cx="1456.6" cy="852.2" r="6.4"/><circle cx="1383.3" cy="861.0" r="6.4"/><circle cx="1386.5" cy="841.7" r="6.4"/><circle cx="923.2" cy="107.6" r="6.4"/><circle cx="926.5" cy="106.2" r="6.4"/><circle cx="933.0" cy="106.0" r="6.4"/><circle cx="936.3" cy="107.1" r="6.4"/><circle cx="939.1" cy="107.1" r="6.4"/><circle cx="945.0" cy="103.0" r="6.4"/><circle cx="950.0" cy="104.7" r="6.4"/><circle cx="952.3" cy="106.2" r="6.4"/><circle cx="930.1" cy="105.1" r="6.4"/><circle cx="965.9" cy="128.9" r="6.4"/><circle cx="968.7" cy="142.4" r="6.4"/><circle cx="980.8" cy="136.6" r="6.4"/><circle cx="984.1" cy="130.2" r="6.4"/><circle cx="990.9" cy="130.4" r="6.4"/><circle cx="1019.3" cy="189.5" r="6.4"/><circle cx="1022.4" cy="192.2" r="6.4"/><circle cx="1026.5" cy="191.3" r="6.4"/><circle cx="1035.1" cy="199.3" r="6.4"/><circle cx="1038.2" cy="208.5" r="6.4"/><circle cx="1048.6" cy="225.8" r="6.4"/><circle cx="1050.8" cy="230.2" r="6.4"/><circle cx="1063.8" cy="231.0" r="6.4"/><circle cx="1069.5" cy="237.6" r="6.4"/><circle cx="1072.9" cy="246.7" r="6.4"/><circle cx="1108.6" cy="305.7" r="6.4"/><circle cx="1133.9" cy="352.4" r="6.4"/><circle cx="1140.1" cy="363.2" r="6.4"/><circle cx="1245.4" cy="707.9" r="6.4"/><circle cx="1255.0" cy="733.5" r="6.4"/><circle cx="1273.9" cy="756.6" r="6.4"/><circle cx="1318.1" cy="837.7" r="6.4"/><circle cx="1327.4" cy="839.5" r="6.4"/><circle cx="1333.1" cy="839.8" r="6.4"/><circle cx="1368.9" cy="847.8" r="6.4"/></g>
<g font-family="Liberation Sans, sans-serif" font-weight="bold" font-size="38.5" fill="#000">
<g transform="translate(99.80,959.62) scale(0.965,1.025)" font-size="38.5"><text x="-34.23" y="0">-6</text></g>
<g transform="translate(99.80,804.31) scale(0.965,1.025)" font-size="38.5"><text x="-34.23" y="0">-3</text></g>
<g transform="translate(99.80,649.00) scale(0.965,1.025)" font-size="38.5"><text x="-21.41" y="0">0</text></g>
<g transform="translate(99.80,493.69) scale(0.965,1.025)" font-size="38.5"><text x="-21.41" y="0">3</text></g>
<g transform="translate(99.80,338.38) scale(0.965,1.025)" font-size="38.5"><text x="-21.41" y="0">6</text></g>
<g transform="translate(99.80,183.07) scale(0.965,1.025)" font-size="38.5"><text x="-21.41" y="0">9</text></g>
<g transform="translate(99.80,27.76) scale(0.965,1.025)" font-size="38.5"><path transform="translate(-42.82,0) scale(0.018799,-0.018799)" d="M500,0 L776,0 L776,1409 L575,1409 L520,1318 L118,1068 L118,828 L500,1030 Z"/><text x="-21.41" y="0">2</text></g>
<g transform="translate(182.06,1001.30) scale(0.965,1.025)" font-size="38.5"><text x="-32.12" y="0">220</text></g>
<g transform="translate(302.58,1001.30) scale(0.965,1.025)" font-size="38.5"><text x="-32.12" y="0">240</text></g>
<g transform="translate(423.10,1001.30) scale(0.965,1.025)" font-size="38.5"><text x="-32.12" y="0">260</text></g>
<g transform="translate(543.62,1001.30) scale(0.965,1.025)" font-size="38.5"><text x="-32.12" y="0">280</text></g>
<g transform="translate(664.14,1001.30) scale(0.965,1.025)" font-size="38.5"><text x="-32.12" y="0">300</text></g>
<g transform="translate(865.50,883.30) scale(0.965,1.025)" font-size="38.5"><text x="-53.52" y="0">0.0</text></g>
<g transform="translate(865.50,727.96) scale(0.965,1.025)" font-size="38.5"><text x="-53.52" y="0">0.2</text></g>
<g transform="translate(865.50,572.62) scale(0.965,1.025)" font-size="38.5"><text x="-53.52" y="0">0.4</text></g>
<g transform="translate(865.50,417.28) scale(0.965,1.025)" font-size="38.5"><text x="-53.52" y="0">0.6</text></g>
<g transform="translate(865.50,261.94) scale(0.965,1.025)" font-size="38.5"><text x="-53.52" y="0">0.8</text></g>
<g transform="translate(865.50,106.60) scale(0.965,1.025)" font-size="38.5"><path transform="translate(-53.52,0) scale(0.018799,-0.018799)" d="M500,0 L776,0 L776,1409 L575,1409 L520,1318 L118,1068 L118,828 L500,1030 Z"/><text x="-32.11" y="0">.0</text></g>
<g transform="translate(889.20,1002.80) scale(0.965,1.025)" font-size="38.5"><text x="-10.71" y="0">0</text></g>
<g transform="translate(952.70,1002.80) scale(0.965,1.025)" font-size="38.5"><path transform="translate(-21.41,0) scale(0.018799,-0.018799)" d="M500,0 L776,0 L776,1409 L575,1409 L520,1318 L118,1068 L118,828 L500,1030 Z"/><text x="0.00" y="0">0</text></g>
<g transform="translate(1016.20,1002.80) scale(0.965,1.025)" font-size="38.5"><text x="-21.41" y="0">20</text></g>
<g transform="translate(1079.70,1002.80) scale(0.965,1.025)" font-size="38.5"><text x="-21.41" y="0">30</text></g>
<g transform="translate(1143.20,1002.80) scale(0.965,1.025)" font-size="38.5"><text x="-21.41" y="0">40</text></g>
<g transform="translate(1206.70,1002.80) scale(0.965,1.025)" font-size="38.5"><text x="-21.41" y="0">50</text></g>
<g transform="translate(1270.20,1002.80) scale(0.965,1.025)" font-size="38.5"><text x="-21.41" y="0">60</text></g>
<g transform="translate(1333.70,1002.80) scale(0.965,1.025)" font-size="38.5"><text x="-21.41" y="0">70</text></g>
<g transform="translate(1397.20,1002.80) scale(0.965,1.025)" font-size="38.5"><text x="-21.41" y="0">80</text></g>
<g transform="translate(1460.70,1002.80) scale(0.965,1.025)" font-size="38.5"><text x="-21.41" y="0">90</text></g>
<text x="287.6" y="1048" >wavelength / nm</text>
<text x="1037.3" y="1054.3" letter-spacing="0.14">Temperature / °C</text>
<text transform="translate(29.9,610.4) rotate(-90)" font-size="39.5" letter-spacing="0.35">CD / mdeg</text>
<text transform="translate(780.2,784) rotate(-90)" font-size="39.5" letter-spacing="0.28">normalized CD <tspan stroke="#000" stroke-width="1.1" font-size="40.5">@</tspan> 260 nm / mdeg</text>
</g>
<g font-family="Liberation Sans, sans-serif" font-weight="bold" font-size="36" fill="#000">
<g transform="translate(238.80,173.60) scale(1.0,1.0)" font-size="36"><text x="0.00" y="0">miR-</text><path transform="translate(80.00,0) scale(0.017578,-0.017578)" d="M500,0 L776,0 L776,1409 L575,1409 L520,1318 L118,1068 L118,828 L500,1030 Z"/><text x="100.02" y="0">5a</text></g>
<g transform="translate(238.80,219.20) scale(1.0,1.0)" font-size="36"><text x="0.00" y="0">miR-</text><path transform="translate(80.00,0) scale(0.017578,-0.017578)" d="M500,0 L776,0 L776,1409 L575,1409 L520,1318 L118,1068 L118,828 L500,1030 Z"/><text x="100.02" y="0">5b</text></g>
<g transform="translate(1299.50,215.20) scale(1.0,1.0)" font-size="36"><text x="0.00" y="0">miR-</text><path transform="translate(80.00,0) scale(0.017578,-0.017578)" d="M500,0 L776,0 L776,1409 L575,1409 L520,1318 L118,1068 L118,828 L500,1030 Z"/><text x="100.02" y="0">5a</text></g>
<g transform="translate(1299.50,260.80) scale(1.0,1.0)" font-size="36"><text x="0.00" y="0">miR-</text><path transform="translate(80.00,0) scale(0.017578,-0.017578)" d="M500,0 L776,0 L776,1409 L575,1409 L520,1318 L118,1068 L118,828 L500,1030 Z"/><text x="100.02" y="0">5b</text></g>
</g>
<path d="M149,160.9H231" stroke="#ff0000" stroke-width="5.4" stroke-linecap="round"/>
<path d="M149,206H231" stroke="#000" stroke-width="5.4" stroke-linecap="round"/>
<circle cx="1249.4" cy="201.9" r="7.8" fill="none" stroke="#ff0000" stroke-width="3.8"/>
<circle cx="1249.2" cy="247.9" r="8.7" fill="none" stroke="#000" stroke-width="2.1"/>
<g font-family="Liberation Sans, sans-serif" font-size="52" fill="#000">
<text transform="translate(645.6,79.9) scale(0.874,1)" font-weight="bold">a</text>
<text transform="translate(674.8,79.9) scale(0.9,0.985)">)</text>
<text transform="translate(1415.2,73) scale(0.97,1)" font-weight="bold">b</text>
<text transform="translate(1446.4,73) scale(0.92,0.985)">)</text>
</g>
</svg>
</body></html>
